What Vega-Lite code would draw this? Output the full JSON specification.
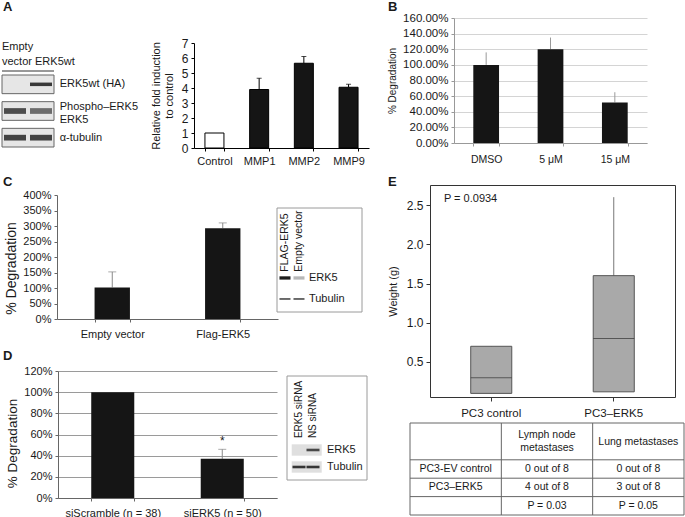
{
  "$schema": "https://vega.github.io/schema/vega-lite/v6.json",
  "width": 685,
  "height": 517,
  "autosize": {"type": "none"},
  "padding": 0,
  "background": "white",
  "config": {
    "font": "Liberation Sans",
    "view": {"stroke": null},
    "axis": {"labelFont": "Liberation Sans", "titleFont": "Liberation Sans", "labelFontSize": 11, "titleFontSize": 11, "titleFontWeight": "normal", "labelColor": "#1a1a1a", "titleColor": "#1a1a1a", "domainColor": "#000", "tickColor": "#000", "tickSize": 3, "grid": false, "labelPadding": 3, "titlePadding": 5},
    "text": {"font": "Liberation Sans", "color": "#1a1a1a"}
  },
  "layer": [
    {
      "data": {"values": [{"panel": "A", "col": 0, "row": 0}, {"panel": "B", "col": 1, "row": 0}, {"panel": "C", "col": 0, "row": 1}, {"panel": "D", "col": 0, "row": 2}, {"panel": "E", "col": 1, "row": 1}]},
      "mark": {"type": "text", "fontSize": 13, "fontWeight": "bold", "align": "left", "baseline": "middle"},
      "encoding": {
        "x": {"field": "col", "type": "quantitative", "scale": {"domain": [0, 1], "range": [3, 388], "nice": false, "zero": false}, "axis": null},
        "y": {"field": "row", "type": "quantitative", "scale": {"domain": [0, 2], "range": [7, 356], "nice": false, "zero": false}, "axis": null},
        "text": {"field": "panel"}
      }
    },
    {
      "layer": [
        {
          "data": {"values": [{"row": "HA"}, {"row": "ERK5"}, {"row": "tub"}]},
          "mark": {"type": "bar", "fill": "#e6e6e6", "stroke": "#666", "strokeWidth": 1, "height": {"band": 0.7}},
          "encoding": {
            "x": {"datum": 0.5, "type": "quantitative", "scale": {"domain": [0.5, 2.5], "range": [2, 54], "nice": false, "zero": false}, "axis": null},
            "x2": {"datum": 2.5},
            "y": {"field": "row", "type": "nominal", "sort": null, "scale": {"domain": ["HA", "ERK5", "tub"], "range": [71, 151], "paddingInner": 0, "paddingOuter": 0}, "axis": null}
          }
        },
        {
          "data": {"values": [{"row": "HA", "lane": 2, "intensity": 0.85}]},
          "mark": {"type": "point", "filled": true, "color": "#1a1a1a", "strokeWidth": 0, "size": 484, "shape": "M-1,-0.16L1,-0.16L1,0.16L-1,0.16Z"},
          "encoding": {
            "x": {"field": "lane", "type": "quantitative"},
            "y": {"field": "row", "type": "nominal", "sort": null},
            "opacity": {"field": "intensity", "type": "quantitative", "scale": {"domain": [0, 1], "range": [0, 1]}, "legend": null}
          }
        },
        {
          "data": {"values": [{"row": "ERK5", "lane": 1, "intensity": 0.75}, {"row": "ERK5", "lane": 2, "intensity": 0.6}, {"row": "tub", "lane": 1, "intensity": 0.8}, {"row": "tub", "lane": 2, "intensity": 0.8}]},
          "mark": {"type": "point", "filled": true, "color": "#1a1a1a", "strokeWidth": 0, "size": 484, "shape": "M-1,-0.26L1,-0.26L1,0.26L-1,0.26Z"},
          "encoding": {
            "x": {"field": "lane", "type": "quantitative"},
            "y": {"field": "row", "type": "nominal", "sort": null},
            "opacity": {"field": "intensity", "type": "quantitative", "scale": {"domain": [0, 1], "range": [0, 1]}, "legend": null}
          }
        },
        {
          "data": {"values": [{"row": "HA", "label": "ERK5wt (HA)"}, {"row": "tub", "label": "α-tubulin"}]},
          "mark": {"type": "text", "align": "left", "baseline": "middle", "fontSize": 11},
          "encoding": {
            "x": {"datum": 2.72, "type": "quantitative"},
            "y": {"field": "row", "type": "nominal", "sort": null},
            "text": {"field": "label"}
          }
        },
        {
          "data": {"values": [{"row": "ERK5", "label": "Phospho–ERK5\nERK5"}]},
          "mark": {"type": "text", "align": "left", "baseline": "middle", "fontSize": 11, "lineBreak": "\n", "lineHeight": 13, "dy": -4},
          "encoding": {
            "x": {"datum": 2.72, "type": "quantitative"},
            "y": {"field": "row", "type": "nominal", "sort": null},
            "text": {"field": "label"}
          }
        },
        {
          "data": {"values": [{"label": "Empty\nvector ERK5wt"}]},
          "mark": {"type": "text", "align": "left", "baseline": "bottom", "fontSize": 11, "lineBreak": "\n", "lineHeight": 15, "dy": -19},
          "encoding": {
            "x": {"datum": 0.5, "type": "quantitative"},
            "y": {"datum": "HA", "type": "nominal", "bandPosition": 0},
            "text": {"field": "label"}
          }
        },
        {
          "data": {"values": [{"label": "lanes"}]},
          "mark": {"type": "rule", "color": "#333", "strokeWidth": 1},
          "encoding": {
            "x": {"datum": 0.5, "type": "quantitative"},
            "x2": {"datum": 2.5},
            "y": {"datum": "HA", "type": "nominal", "bandPosition": 0}
          }
        }
      ]
    },
    {
      "data": {"values": [{"cond": "Control", "fold": 1.0}, {"cond": "MMP1", "fold": 3.9, "upper": 4.65}, {"cond": "MMP2", "fold": 5.65, "upper": 6.1}, {"cond": "MMP9", "fold": 4.05, "upper": 4.25}]},
      "encoding": {
        "x": {"field": "cond", "type": "nominal", "sort": null, "scale": {"domain": ["Control", "MMP1", "MMP2", "MMP9"], "range": [194, 369], "paddingInner": 0.575, "paddingOuter": 0.245}, "axis": {"orient": "bottom", "offset": -369, "title": null, "labelAngle": 0, "tickBand": "extent", "tickSize": 3, "labelPadding": 4, "labelFontSize": 11}},
        "y": {"field": "fold", "type": "quantitative", "scale": {"domain": [0, 7], "range": [148, 43], "nice": false, "zero": true}, "axis": {"orient": "left", "offset": -194, "values": [0, 1, 2, 3, 4, 5, 6, 7], "title": ["Relative fold induction", "to control"], "titlePadding": 7, "tickSize": 3, "labelPadding": 3, "labelFontSize": 12}}
      },
      "layer": [
        {"transform": [{"filter": "isValid(datum.upper)"}], "mark": {"type": "rule", "color": "#000", "strokeWidth": 1}, "encoding": {"y2": {"field": "upper"}}},
        {"transform": [{"filter": "isValid(datum.upper)"}], "mark": {"type": "tick", "color": "#000", "thickness": 1, "size": 5}, "encoding": {"y": {"field": "upper", "type": "quantitative"}}},
        {"mark": {"type": "bar", "stroke": "#000", "strokeWidth": 1}, "encoding": {"fill": {"field": "cond", "type": "nominal", "scale": {"domain": ["Control", "MMP1", "MMP2", "MMP9"], "range": ["#ffffff", "#151515", "#151515", "#151515"]}, "legend": null}}}
      ]
    },
    {
      "data": {"values": [{"dose": "DMSO", "deg": 1.0, "upper": 1.16}, {"dose": "5 μM", "deg": 1.2, "upper": 1.35}, {"dose": "15 μM", "deg": 0.52, "upper": 0.65}]},
      "encoding": {
        "x": {"field": "dose", "type": "nominal", "sort": null, "scale": {"domain": ["DMSO", "5 μM", "15 μM"], "range": [454, 647], "paddingInner": 0.6, "paddingOuter": 0.3}, "axis": {"orient": "bottom", "offset": -374, "title": null, "labelAngle": 0, "tickBand": "extent", "tickSize": 3, "labelPadding": 8, "domainColor": "#999", "tickColor": "#999", "labelFontSize": 10.5}},
        "y": {"field": "deg", "type": "quantitative", "scale": {"domain": [0, 1.6], "range": [143, 18], "nice": false}, "axis": {"orient": "left", "offset": -454, "values": [0, 0.2, 0.4, 0.6, 0.8, 1, 1.2, 1.4, 1.6], "format": ".2%", "title": "% Degradation", "titleFontSize": 10, "titlePadding": 5, "grid": true, "gridColor": "#d4d4d4", "domainColor": "#999", "tickColor": "#999", "tickSize": 3, "labelFontSize": 11.5}}
      },
      "layer": [
        {"mark": {"type": "rule", "color": "#9a9a9a", "strokeWidth": 1}, "encoding": {"y2": {"field": "upper"}}},
        {"mark": {"type": "bar", "color": "#151515"}}
      ]
    },
    {
      "data": {"values": [{"grp": "Empty vector", "deg": 1.02, "upper": 1.52}, {"grp": "Flag-ERK5", "deg": 2.93, "upper": 3.1}]},
      "encoding": {
        "x": {"field": "grp", "type": "nominal", "sort": null, "scale": {"domain": ["Empty vector", "Flag-ERK5"], "range": [57, 278], "paddingInner": 0.68, "paddingOuter": 0.34}, "axis": {"orient": "bottom", "offset": -198, "title": null, "labelAngle": 0, "tickBand": "extent", "tickSize": 3, "labelPadding": 6, "domainColor": "#666", "tickColor": "#666", "labelFontSize": 11}},
        "y": {"field": "deg", "type": "quantitative", "scale": {"domain": [0, 4], "range": [319, 195], "nice": false}, "axis": {"orient": "left", "offset": -57, "values": [0, 0.5, 1, 1.5, 2, 2.5, 3, 3.5, 4], "format": ".0%", "title": "% Degradation", "titleFontSize": 14, "titleY": 268, "titlePadding": 4, "domainColor": "#666", "tickColor": "#666", "tickSize": 3, "labelFontSize": 11}}
      },
      "layer": [
        {"mark": {"type": "rule", "color": "#888", "strokeWidth": 1}, "encoding": {"y2": {"field": "upper"}}},
        {"mark": {"type": "tick", "color": "#888", "thickness": 1, "size": 8}, "encoding": {"y": {"field": "upper", "type": "quantitative"}}},
        {"mark": {"type": "bar", "color": "#151515"}}
      ]
    },
    {
      "layer": [
        {
          "data": {"values": [{"box": "frame"}]},
          "mark": {"type": "rect", "fillOpacity": 0, "stroke": "#9a9a9a", "strokeWidth": 1},
          "encoding": {
            "x": {"datum": 0.43, "type": "quantitative", "scale": {"domain": [0.43, 6.5], "range": [277, 362], "nice": false, "zero": false}, "axis": null},
            "x2": {"datum": 6.5},
            "y": {"datum": -2.33, "type": "quantitative", "scale": {"domain": [-2.33, 2.62], "range": [208, 312], "nice": false, "zero": false}, "axis": null},
            "y2": {"datum": 2.62}
          }
        },
        {
          "data": {"values": [{"lane": 1, "name": "FLAG-ERK5"}, {"lane": 2, "name": "Empty vector"}]},
          "mark": {"type": "text", "angle": 270, "align": "left", "baseline": "middle", "fontSize": 10.5},
          "encoding": {"x": {"field": "lane", "type": "quantitative"}, "y": {"datum": 0.7, "type": "quantitative"}, "text": {"field": "name"}}
        },
        {
          "data": {"values": [{"lane": 1, "row": 1, "intensity": 0.95}, {"lane": 2, "row": 1, "intensity": 0.3}]},
          "mark": {"type": "point", "filled": true, "color": "#111", "strokeWidth": 0, "size": 121, "shape": "M-1,-0.3L1,-0.3L1,0.3L-1,0.3Z"},
          "encoding": {"x": {"field": "lane", "type": "quantitative"}, "y": {"field": "row", "type": "quantitative"}, "opacity": {"field": "intensity", "type": "quantitative", "scale": {"domain": [0, 1], "range": [0, 1]}, "legend": null}}
        },
        {
          "data": {"values": [{"lane": 1, "row": 2, "intensity": 0.8}, {"lane": 2, "row": 2, "intensity": 0.8}]},
          "mark": {"type": "point", "filled": true, "color": "#111", "strokeWidth": 0, "size": 121, "shape": "M-1,-0.14L1,-0.14L1,0.14L-1,0.14Z"},
          "encoding": {"x": {"field": "lane", "type": "quantitative"}, "y": {"field": "row", "type": "quantitative"}, "opacity": {"field": "intensity", "type": "quantitative", "scale": {"domain": [0, 1], "range": [0, 1]}, "legend": null}}
        },
        {
          "data": {"values": [{"row": 1, "label": "ERK5"}, {"row": 2, "label": "Tubulin"}]},
          "mark": {"type": "text", "align": "left", "baseline": "middle", "fontSize": 11},
          "encoding": {"x": {"datum": 2.71, "type": "quantitative"}, "y": {"field": "row", "type": "quantitative"}, "text": {"field": "label"}}
        }
      ]
    },
    {
      "data": {"values": [{"grp": "siScramble (n = 38)", "deg": 1.0}, {"grp": "siERK5 (n = 50)", "deg": 0.37, "upper": 0.46}]},
      "encoding": {
        "x": {"field": "grp", "type": "nominal", "sort": null, "scale": {"domain": ["siScramble (n = 38)", "siERK5 (n = 50)"], "range": [58, 277], "paddingInner": 0.607, "paddingOuter": 0.3035}, "axis": {"orient": "bottom", "offset": -19, "title": null, "labelAngle": 0, "tickBand": "extent", "tickSize": 3, "labelPadding": 6, "domainColor": "#666", "tickColor": "#666", "labelFontSize": 11}},
        "y": {"field": "deg", "type": "quantitative", "scale": {"domain": [0, 1.2], "range": [498, 371], "nice": false}, "axis": {"orient": "left", "offset": -58, "values": [0, 0.2, 0.4, 0.6, 0.8, 1, 1.2], "format": ".0%", "title": "% Degradation", "titleFontSize": 13.5, "titleY": 443, "titlePadding": 4, "grid": true, "gridColor": "#9a9a9a", "domainColor": "#666", "tickColor": "#666", "tickSize": 3, "labelFontSize": 11}}
      },
      "layer": [
        {"transform": [{"filter": "isValid(datum.upper)"}], "mark": {"type": "rule", "color": "#888", "strokeWidth": 1}, "encoding": {"y2": {"field": "upper"}}},
        {"transform": [{"filter": "isValid(datum.upper)"}], "mark": {"type": "tick", "color": "#888", "thickness": 1, "size": 8}, "encoding": {"y": {"field": "upper", "type": "quantitative"}}},
        {"mark": {"type": "bar", "color": "#151515"}},
        {"transform": [{"filter": "isValid(datum.upper)"}], "mark": {"type": "text", "fontSize": 12, "baseline": "middle", "align": "center"}, "encoding": {"y": {"datum": 0.535, "type": "quantitative"}, "text": {"value": "*"}}}
      ]
    },
    {
      "layer": [
        {
          "data": {"values": [{"box": "frame"}]},
          "mark": {"type": "rect", "fillOpacity": 0, "stroke": "#9a9a9a", "strokeWidth": 1},
          "encoding": {
            "x": {"datum": 0.143, "type": "quantitative", "scale": {"domain": [0.143, 5.857], "range": [287, 367], "nice": false, "zero": false}, "axis": null},
            "x2": {"datum": 5.857},
            "y": {"datum": -3.353, "type": "quantitative", "scale": {"domain": [-3.353, 2.765], "range": [376, 480], "nice": false, "zero": false}, "axis": null},
            "y2": {"datum": 2.765}
          }
        },
        {
          "data": {"values": [{"lane": 1, "name": "ERK5 siRNA"}, {"lane": 2, "name": "NS siRNA"}]},
          "mark": {"type": "text", "angle": 270, "align": "left", "baseline": "middle", "fontSize": 10},
          "encoding": {"x": {"field": "lane", "type": "quantitative"}, "y": {"datum": 0.3, "type": "quantitative"}, "text": {"field": "name"}}
        },
        {
          "data": {"values": [{"row": 1}, {"row": 2}]},
          "mark": {"type": "point", "filled": true, "color": "#d2d2d2", "strokeWidth": 0, "size": 900, "shape": "M-1,-0.38L1,-0.38L1,0.38L-1,0.38Z"},
          "encoding": {"x": {"datum": 1.55, "type": "quantitative"}, "y": {"field": "row", "type": "quantitative"}}
        },
        {
          "data": {"values": [{"lane": 2, "row": 1, "intensity": 0.8}, {"lane": 1, "row": 2, "intensity": 0.9}, {"lane": 2, "row": 2, "intensity": 0.9}]},
          "mark": {"type": "point", "filled": true, "color": "#222", "strokeWidth": 0, "size": 169, "shape": "M-1,-0.2L1,-0.2L1,0.2L-1,0.2Z"},
          "encoding": {"x": {"field": "lane", "type": "quantitative"}, "y": {"field": "row", "type": "quantitative"}, "opacity": {"field": "intensity", "type": "quantitative", "scale": {"domain": [0, 1], "range": [0, 1]}, "legend": null}}
        },
        {
          "data": {"values": [{"row": 1, "label": "ERK5"}, {"row": 2, "label": "Tubulin"}]},
          "mark": {"type": "text", "align": "left", "baseline": "middle", "fontSize": 11},
          "encoding": {"x": {"datum": 3.0, "type": "quantitative"}, "y": {"field": "row", "type": "quantitative"}, "text": {"field": "label"}}
        }
      ]
    },
    {
      "data": {"values": [{"grp": "PC3 control", "lower": 0.1, "q1": 0.1, "median": 0.3, "q3": 0.7, "upper": 0.7}, {"grp": "PC3–ERK5", "lower": 0.12, "q1": 0.12, "median": 0.8, "q3": 1.6, "upper": 2.6}]},
      "resolve": {"axis": {"x": "independent", "y": "independent"}},
      "layer": [
        {
          "mark": {"type": "rule", "color": "#777", "strokeWidth": 1},
          "encoding": {
            "x": {"field": "grp", "type": "nominal", "sort": null, "scale": {"domain": ["PC3 control", "PC3–ERK5"], "range": [430, 675], "paddingInner": 0.665, "paddingOuter": 0.3325}, "axis": {"orient": "bottom", "offset": -120, "title": null, "labelAngle": 0, "tickSize": 4, "labelPadding": 6, "domainColor": "#333", "tickColor": "#333", "labelFontSize": 11.5}},
            "y": {"field": "lower", "type": "quantitative", "scale": {"domain": [0.054, 2.755], "range": [397, 185], "nice": false, "zero": false}, "axis": {"orient": "left", "offset": -430, "values": [0.5, 1, 1.5, 2, 2.5], "format": ".1f", "title": "Weight (g)", "titlePadding": 8, "tickSize": 4, "labelPadding": 3, "domainColor": "#333", "tickColor": "#333", "labelFontSize": 12}},
            "y2": {"field": "upper"}
          }
        },
        {
          "mark": {"type": "bar", "fill": "#a9a9a9", "stroke": "#555", "strokeWidth": 1},
          "encoding": {
            "x": {"field": "grp", "type": "nominal", "sort": null, "axis": {"orient": "top", "offset": -185, "title": null, "labels": false, "ticks": false, "domainColor": "#333"}},
            "y": {"field": "q1", "type": "quantitative", "axis": {"orient": "right", "offset": -10, "title": null, "labels": false, "ticks": false, "domainColor": "#333"}},
            "y2": {"field": "q3"}
          }
        },
        {
          "mark": {"type": "tick", "color": "#333", "thickness": 1, "size": 41},
          "encoding": {
            "x": {"field": "grp", "type": "nominal", "sort": null, "axis": null},
            "y": {"field": "median", "type": "quantitative", "axis": null}
          }
        },
        {
          "transform": [{"filter": "datum.grp == 'PC3 control'"}],
          "mark": {"type": "text", "align": "right", "baseline": "middle", "fontSize": 11, "dx": 6},
          "encoding": {
            "x": {"field": "grp", "type": "nominal", "sort": null, "axis": null},
            "y": {"datum": 2.58, "type": "quantitative", "axis": null},
            "text": {"value": "P = 0.0934"}
          }
        }
      ]
    },
    {
      "resolve": {"scale": {"x": "independent", "y": "independent"}},
      "layer": [
        {
          "data": {"values": [{"edge": 0}, {"edge": 2}, {"edge": 3}, {"edge": 4}, {"edge": 5}]},
          "mark": {"type": "rule", "color": "#666", "strokeWidth": 1},
          "encoding": {
            "x": {"datum": 0, "type": "quantitative", "scale": {"domain": [0, 3], "range": [410, 684], "nice": false, "zero": false}, "axis": null},
            "x2": {"datum": 3},
            "y": {"field": "edge", "type": "quantitative", "scale": {"domain": [0, 5], "range": [423, 515], "nice": false, "zero": false}, "axis": null}
          }
        },
        {
          "data": {"values": [{"edge": 0}, {"edge": 1}, {"edge": 2}, {"edge": 3}]},
          "mark": {"type": "rule", "color": "#666", "strokeWidth": 1},
          "encoding": {
            "x": {"field": "edge", "type": "quantitative", "scale": {"domain": [0, 3], "range": [410, 684], "nice": false, "zero": false}, "axis": null},
            "y": {"datum": 0, "type": "quantitative", "scale": {"domain": [0, 5], "range": [423, 515], "nice": false, "zero": false}, "axis": null},
            "y2": {"datum": 5}
          }
        },
        {
          "data": {"values": [{"col": "lymph", "row": "h1", "text": "Lymph node\nmetastases"}]},
          "mark": {"type": "text", "align": "center", "baseline": "middle", "fontSize": 10.5, "lineBreak": "\n", "lineHeight": 13, "dy": 3},
          "encoding": {
            "x": {"field": "col", "type": "nominal", "sort": null, "scale": {"domain": ["label", "lymph", "lung"], "range": [410, 684], "paddingInner": 0, "paddingOuter": 0}, "axis": null},
            "y": {"field": "row", "type": "nominal", "sort": null, "scale": {"domain": ["h1", "h2", "ev", "erk5", "p"], "range": [423, 515], "paddingInner": 0, "paddingOuter": 0}, "axis": null},
            "text": {"field": "text"}
          }
        },
        {
          "data": {"values": [{"col": "lung", "row": "h1", "text": "Lung metastases"}]},
          "mark": {"type": "text", "align": "center", "baseline": "middle", "fontSize": 10.5, "dy": 9.5},
          "encoding": {
            "x": {"field": "col", "type": "nominal", "sort": null, "scale": {"domain": ["label", "lymph", "lung"], "range": [410, 684], "paddingInner": 0, "paddingOuter": 0}, "axis": null},
            "y": {"field": "row", "type": "nominal", "sort": null, "scale": {"domain": ["h1", "h2", "ev", "erk5", "p"], "range": [423, 515], "paddingInner": 0, "paddingOuter": 0}, "axis": null},
            "text": {"field": "text"}
          }
        },
        {
          "data": {"values": [
            {"row": "ev", "col": "label", "text": "PC3-EV control"},
            {"row": "ev", "col": "lymph", "text": "0 out of 8"},
            {"row": "ev", "col": "lung", "text": "0 out of 8"},
            {"row": "erk5", "col": "label", "text": "PC3–ERK5"},
            {"row": "erk5", "col": "lymph", "text": "4 out of 8"},
            {"row": "erk5", "col": "lung", "text": "3 out of 8"},
            {"row": "p", "col": "lymph", "text": "P = 0.03"},
            {"row": "p", "col": "lung", "text": "P = 0.05"}
          ]},
          "mark": {"type": "text", "align": "center", "baseline": "middle", "fontSize": 10.5},
          "encoding": {
            "x": {"field": "col", "type": "nominal", "sort": null, "scale": {"domain": ["label", "lymph", "lung"], "range": [410, 684], "paddingInner": 0, "paddingOuter": 0}, "axis": null},
            "y": {"field": "row", "type": "nominal", "sort": null, "scale": {"domain": ["h1", "h2", "ev", "erk5", "p"], "range": [423, 515], "paddingInner": 0, "paddingOuter": 0}, "axis": null},
            "text": {"field": "text"}
          }
        }
      ]
    }
  ],
  "resolve": {
    "scale": {"x": "independent", "y": "independent", "fill": "independent", "opacity": "independent"},
    "axis": {"x": "independent", "y": "independent"}
  }
}
